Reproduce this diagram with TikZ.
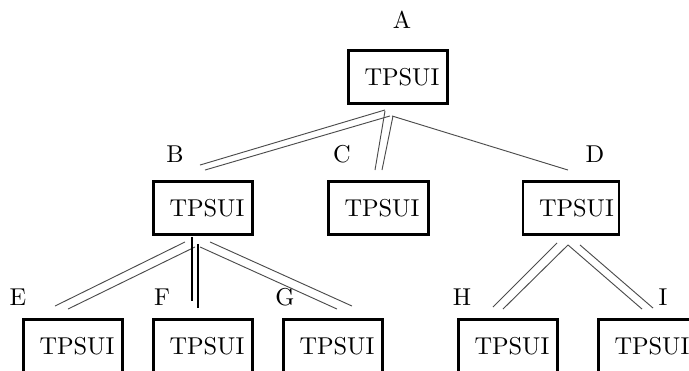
\documentclass[tikz,border=0pt]{standalone}
\usepackage{tikz}
\usetikzlibrary{calc}

\begin{document}
\begin{tikzpicture}[x=0.015cm, y=-0.015cm,
	every node/.style={font=\fontsize{10.4pt}{12pt}\selectfont},
	frame/.style={draw, line width=1.25pt, minimum width=99*0.015cm, minimum height=53*0.015cm, inner sep=0pt},
	tps/.style={anchor=west, inner sep=0pt},
	link/.style={line width=0.4pt, black!70},
	boldlink/.style={line width=1.25pt, black}]
		\useasboundingbox (0,0) rectangle (689,371);
		
		% boxes
		\node[frame] (a) at (398,77) {};
		\node[frame] (b) at (203,208) {};
		\node[frame, minimum width=100*0.015cm] (c) at (378.5,208) {};
		\node[frame, minimum width=96*0.015cm] (d) at (571,208) {};
		\node[frame] (e) at (73,346) {};
		\node[frame] (f) at (203,346) {};
		\node[frame] (g) at (333,346) {};
		\node[frame] (h) at (508,346) {};
		\node[frame] (i) at (648,346) {};
		
		\foreach \n in {a,b,c,d,e,f,g,h,i}
			\node[tps] (\n txt) at ($(\n.west)+(17,0)$) {TPSUI};
		
		% letters
		\node (la) at (402,20) {A};
		\node (lb) at (175,154) {B};
		\node (lc) at (342,154) {C};
		\node (ld) at (595,154) {D};
		\node (le) at (18,297) {E};
		\node (lf) at (162,297) {F};
		\node (lg) at (285,297) {G};
		\node (lh) at (462,297) {H};
		\node (li) at (663,297) {I};
		
		% links from A
		\draw[link] ($(a.south)+(-13,5)$) -- ($(b.north)+(-3,-15)$);
		\draw[link] ($(a.south)+(-8,11)$) -- ($(b.north)+(2,-10)$);
		\draw[link] ($(a.south)+(-13,6)$) -- ($(c.north)+(-3.5,-10)$);
		\draw[link] ($(a.south)+(-5,11)$) -- ($(c.north)+(3.5,-10)$);
		\draw[link] ($(a.south)+(-6,11)$) -- ($(d.north)+(-3,-10)$);
		
		% links from B
		\draw[link] ($(b.south)+(-18,6)$) -- ($(e.north)+(-18,-12)$);
		\draw[link] ($(b.south)+(-8,11)$) -- ($(e.north)+(-5,-9)$);
		\draw[boldlink] ($(b.south)+(-11,1)$) -- ($(f.north)+(-11,-17)$);
		\draw[boldlink] ($(b.south)+(-5,8)$) -- ($(f.north)+(-5,-10)$);
		\draw[link] ($(b.south)+(7,6)$) -- ($(g.north)+(19,-12)$);
		\draw[link] ($(b.south)+(-3,11)$) -- ($(g.north)+(4,-9)$);
		
		% links from D
		\draw[link] ($(d.south)+(-14,7)$) -- ($(h.north)+(-15,-11)$);
		\draw[link] ($(d.south)+(-3,9)$) -- ($(h.north)+(-5,-9)$);
		\draw[link] ($(d.south)+(-3,9)$) -- ($(i.north)+(-6,-9)$);
		\draw[link] ($(d.south)+(9,9)$) -- ($(i.north)+(5,-10)$);
		
\end{tikzpicture}
\end{document}
